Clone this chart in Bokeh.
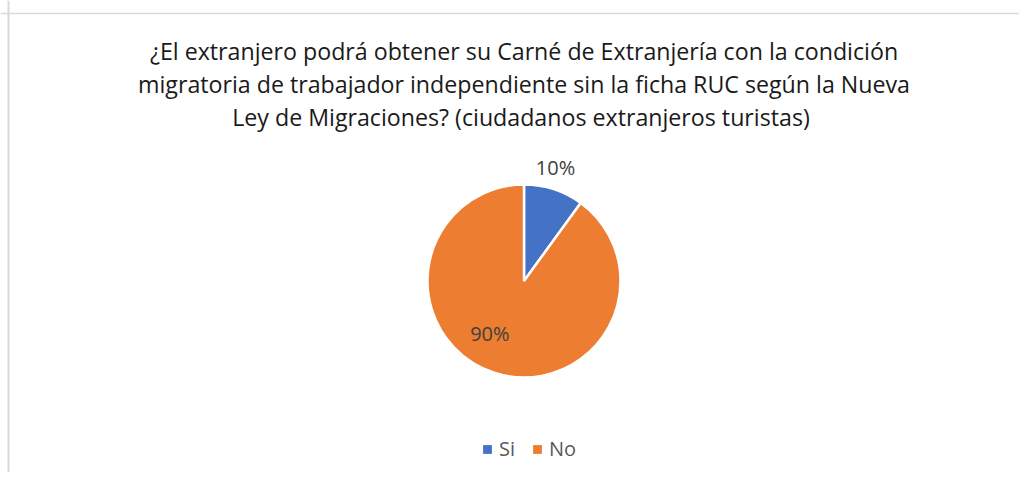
import math
from bokeh.plotting import figure
from bokeh.models import Range1d, Label, Legend, LegendItem, Span, ColumnDataSource
from bokeh.embed import file_html
from bokeh.resources import INLINE

categories = ["Si", "No"]
values = [10, 90]
colors = ["#4472C4", "#ED7D31"]
title_lines = [
    "¿El extranjero podrá obtener su Carné de Extranjería con la condición",
    "migratoria de trabajador independiente sin la ficha RUC según la Nueva",
    "Ley de Migraciones?  (ciudadanos extranjeros turistas)",
]

W, H = 1019, 472
FONT = "Open Sans"

# data units == page pixels (x to the right, y = 480 - page y)
p = figure(width=W, height=H, output_backend="svg", toolbar_location=None,
           x_range=Range1d(0, W), y_range=Range1d(480 - H, 480),
           min_border=0, outline_line_color=None)
p.axis.visible = False
p.grid.visible = False

# chart-area border (only top and left edges are visible in the reference)
p.add_layout(Span(location=480 - 13, dimension="width", line_color="#D9D9D9", line_width=1.5))
p.add_layout(Span(location=8, dimension="height", line_color="#D9D9D9", line_width=2))

cx, cy, r = 523.5, 480 - 280.5, 96.5
total = sum(values)
starts, ends = [], []
cum = 0
for v in values:
    starts.append(math.pi / 2 - 2 * math.pi * (cum + v) / total)
    ends.append(math.pi / 2 - 2 * math.pi * cum / total)
    cum += v

src = ColumnDataSource(dict(cat=categories, val=values, color=colors,
                            start=starts, end=ends,
                            x=[cx] * len(values), y=[cy] * len(values)))
p.wedge(x="x", y="y", radius=r, start_angle="start", end_angle="end",
        fill_color="color", line_color="white", line_width=2.5, source=src)

# data labels (Excel best-fit positions)
label_pos = [(math.radians(74.5), 1.22), (math.radians(-123), 0.65)]
for v, (ang, f) in zip(values, label_pos):
    p.add_layout(Label(x=cx + f * r * math.cos(ang), y=cy + f * r * math.sin(ang),
                       text=f"{v}%", text_align="center", text_baseline="middle",
                       text_font=FONT, text_font_size="20px", text_color="#404040"))

# title
for i, line in enumerate(title_lines):
    p.add_layout(Label(x=523.5, y=480 - 50.5 - i * 33, text=line, text_align="center",
                       text_baseline="middle", text_font=FONT, text_font_size="23.2px",
                       text_color="#1a1a1a"))

# legend with square markers (markers carry no visible points)
nan = float("nan")
items = []
for c, col in zip(categories, colors):
    rr = p.scatter(x=[nan], y=[nan], marker="square", size=9, fill_color=col, line_color=None)
    items.append(LegendItem(label=c, renderers=[rr]))
legend = Legend(items=items, orientation="horizontal", location=(476, 10),
                glyph_width=22, glyph_height=22, label_text_font=FONT,
                label_text_font_size="20px", label_text_color="#595959",
                border_line_color=None, background_fill_alpha=0,
                spacing=11, label_standoff=1, label_width=0, padding=0, margin=0)
p.add_layout(legend, "center")

open("out.html", "w").write(file_html(p, INLINE))
